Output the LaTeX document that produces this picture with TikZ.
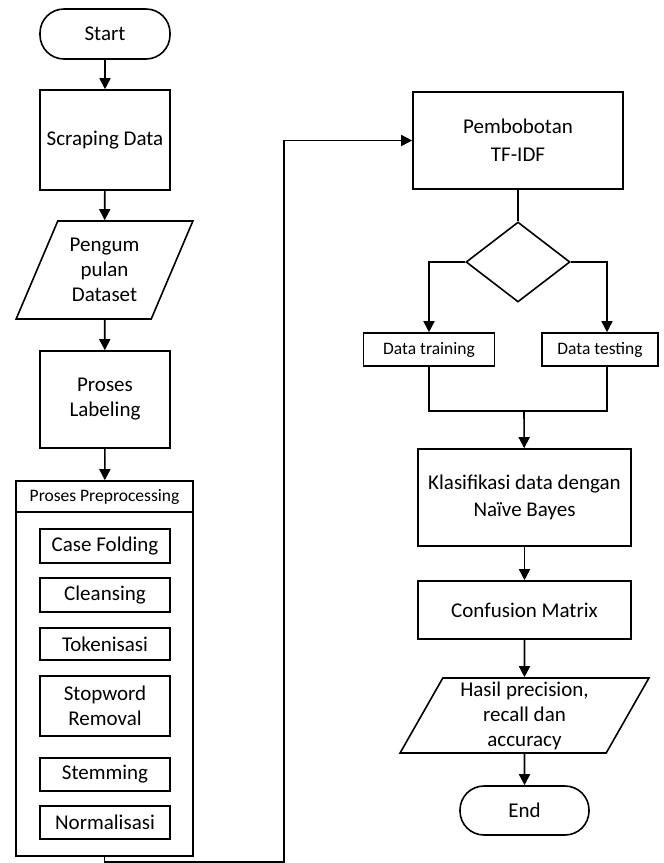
\documentclass[tikz,border=0pt]{standalone}
\usepackage{fontspec}
\setmainfont{Carlito}
\usetikzlibrary{arrows.meta,positioning,calc,shapes.geometric}

\begin{document}
\begin{tikzpicture}[x=1pt, y=-1pt, line width=1.6pt,
    every node/.style={font=\fontsize{21}{25}\selectfont, align=center, inner sep=0pt},
    box/.style={draw, rectangle, minimum width=130pt},
    term/.style={draw, rectangle, rounded corners=24pt, minimum width=130pt, minimum height=50pt},
    io/.style={draw, trapezium, trapezium left angle=64, trapezium right angle=116, trapezium stretches=true},
    small/.style={font=\fontsize{17.5}{21}\selectfont},
    arr/.style={-{Triangle[length=11pt,width=11pt]}}]
    \useasboundingbox (0,0) rectangle (664,863);

    % left column
    \node[term] (start) at (105,34) {Start};
    \node[box, minimum height=100pt] (scrap) at (105,140) {Scraping Data};
    \node[io, minimum width=177pt, minimum height=98pt] (kumpul) at (104.5,270) {Pengum\\pulan\\Dataset};
    \node[box, minimum height=97pt] (label) at (105,399.5) {Proses\\Labeling};

    % preprocessing group
    \node[draw, minimum width=177pt, minimum height=375pt] (prep) at (104.5,668.5) {};
    \node[small] (prephead) at (104.5,497) {Proses Preprocessing};
    \draw ([yshift=-32pt]prep.north west) -- ([yshift=-32pt]prep.north east);
    \node[box, minimum height=34pt] (fold) at (105,546) {Case Folding};
    \node[box, minimum height=34pt] (clean) at (105,595) {Cleansing};
    \node[box, minimum height=32pt] (token) at (105,644) {Tokenisasi};
    \node[box, minimum height=60pt] (stopw) at (105,706) {Stopword\\Removal};
    \node[box, minimum height=33pt] (stem) at (105,774.5) {Stemming};
    \node[box, minimum height=33pt] (norm) at (105,822.5) {Normalisasi};

    % right column
    \node[box, minimum width=210pt, minimum height=97pt] (tfidf) at (518,140.5) {Pembobotan\\[3pt]TF-IDF};
    \node[draw, diamond, minimum width=104pt, minimum height=80pt] (split) at (518,262) {};
    \node[box, small, minimum width=131pt, minimum height=33pt] (train) at (429,349.5) {Data training};
    \node[box, small, minimum width=116pt, minimum height=33pt] (test) at (600,349.5) {Data testing};
    \coordinate (merge) at (524,411);
    \node[box, minimum width=213pt, minimum height=97pt] (klas) at (524.5,497.5) {Klasifikasi data dengan\\[2pt]Naïve Bayes};
    \node[box, minimum width=213pt, minimum height=58pt] (conf) at (524.5,610) {Confusion Matrix};
    \node[io, trapezium left angle=63.7, trapezium right angle=116.3, minimum width=249pt, minimum height=75pt] (hasil) at (524.5,715.5) {Hasil precision,\\recall dan\\accuracy};
    \node[term, minimum width=129pt, minimum height=49pt] (end) at (524.5,810.5) {End};
    \coordinate (loop) at (284,862);

    % connectors
    \draw[arr] (start) -- (scrap);
    \draw[arr] (scrap) -- (kumpul);
    \draw[arr] (kumpul) -- (label);
    \draw[arr] (label) -- (prep);
    \draw[arr] (prep.south) |- (loop) |- (tfidf.west);
    \draw (tfidf) -- (split);
    \draw[arr] (split.west) -| (train.north);
    \draw[arr] (split.east) -| ($(test.north)+(7,0)$);
    \draw (train.south) |- (merge);
    \draw ($(test.south)+(7,0)$) |- (merge);
    \draw[arr] (merge) -- (klas);
    \draw[arr] (klas) -- (conf);
    \draw[arr] (conf) -- (hasil);
    \draw[arr] (hasil) -- (end);
\end{tikzpicture}
\end{document}
